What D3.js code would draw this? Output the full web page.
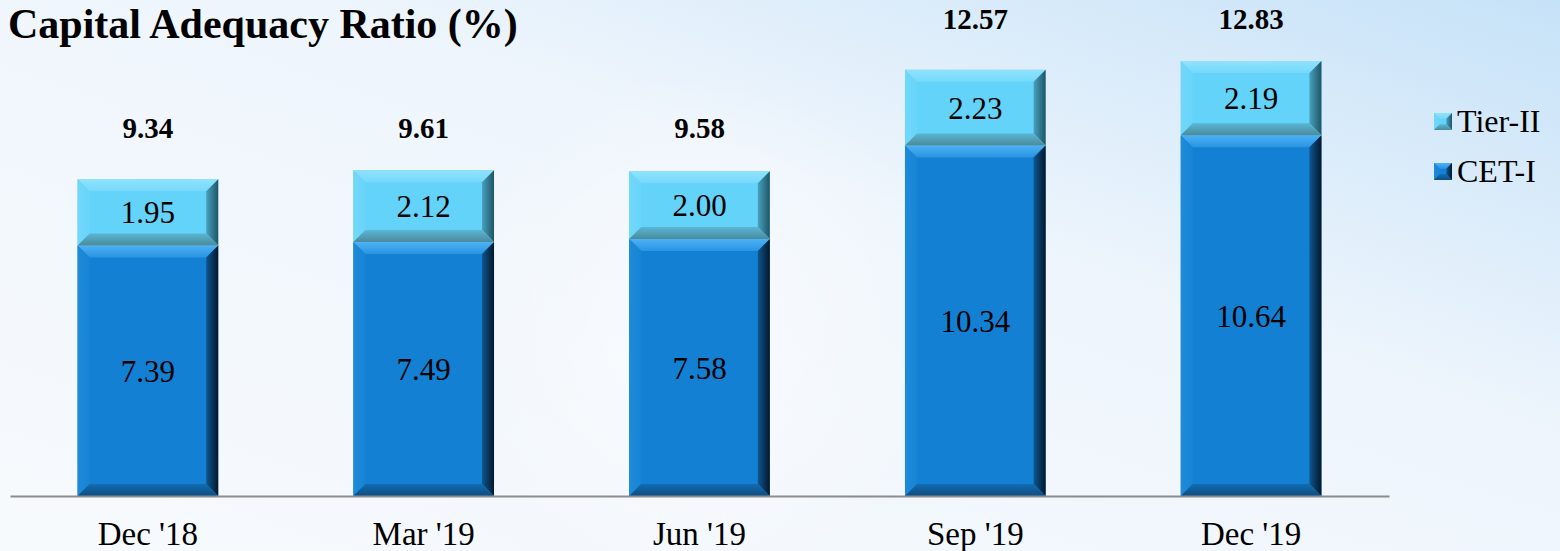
<!DOCTYPE html>
<html>
<head>
<meta charset="utf-8">
<script src="https://cdn.jsdelivr.net/npm/d3@7"></script>
<style>
  html, body { margin: 0; padding: 0; }
  body { width: 1560px; height: 551px; overflow: hidden; font-family: "Liberation Serif", "Times New Roman", serif; }
</style>
</head>
<body>
<div id="chart"></div>
<script>
// chart data
var categories = ["Dec '18", "Mar '19", "Jun '19", "Sep '19", "Dec '19"];
var cetValues = [7.39, 7.49, 7.58, 10.34, 10.64];
var tierValues = [1.95, 2.12, 2.00, 2.23, 2.19];
var totalLabels = ["9.34", "9.61", "9.58", "12.57", "12.83"];
var seriesNames = ["Tier-II", "CET-I"];

var W = 1560, H = 551;
var baseY = 496;

var svg = d3.select("#chart").append("svg")
    .attr("width", W)
    .attr("height", H);

var defs = svg.append("defs");

// background
var bg = defs.append("linearGradient").attr("id", "bg")
    .attr("x1", "0").attr("y1", "1").attr("x2", "1").attr("y2", "0");
bg.append("stop").attr("offset", "0").attr("stop-color", "#f7fafd");
bg.append("stop").attr("offset", "0.6").attr("stop-color", "#eef5fc");
bg.append("stop").attr("offset", "1").attr("stop-color", "#c6e2f8");
svg.append("rect").attr("width", W).attr("height", H).attr("fill", "url(#bg)");

var glow = defs.append("radialGradient").attr("id", "glow");
glow.append("stop").attr("offset", "0").attr("stop-color", "#ffffff").attr("stop-opacity", 0.55);
glow.append("stop").attr("offset", "1").attr("stop-color", "#ffffff").attr("stop-opacity", 0);
svg.append("circle").attr("cx", 700).attr("cy", 330).attr("r", 260).attr("fill", "url(#glow)");

var x = d3.scaleBand()
    .domain(categories)
    .range([10, 1389])
    .paddingInner(0.49)
    .paddingOuter(0.245);

var y = d3.scaleLinear()
    .domain([0, 14.63])
    .range([baseY, 0]);

// colours for the bevelled boxes
var styles = {
  "Tier-II": { key: "t", face: "#64d3f9", top: "#8fe2fd", left: "#70d7fa", right: "#1f5566", bottom: "#4a8a9c" },
  "CET-I":   { key: "c", face: "#1380d3", top: "#4cb2f6", left: "#1e8ad9", right: "#04182b", bottom: "#0f4d80" }
};

// gradients for the bevel edges (edge colour fading into the face)
Object.keys(styles).forEach(function(name) {
  var st = styles[name];
  var dirs = {
    top:    [0, 0, 0, 1],
    left:   [0, 0, 1, 0],
    right:  [1, 0, 0, 0],
    bottom: [0, 1, 0, 0]
  };
  Object.keys(dirs).forEach(function(side) {
    var d = dirs[side];
    var g = defs.append("linearGradient").attr("id", st.key + "-" + side)
        .attr("x1", d[0]).attr("y1", d[1]).attr("x2", d[2]).attr("y2", d[3]);
    g.append("stop").attr("offset", "0").attr("stop-color", st[side]);
    g.append("stop").attr("offset", "1").attr("stop-color", d3.interpolateRgb(st[side], st.face)(0.6));
  });
});

function bevelBox(g, x0, y0, w, h, st, bev) {
  var b = Math.min(bev, h / 3);
  var x1 = x0 + w, y1 = y0 + h;
  g.append("rect").attr("x", x0).attr("y", y0).attr("width", w).attr("height", h).attr("fill", st.face);
  var poly = function(pts, fill) {
    g.append("polygon").attr("points", pts.map(function(p) { return p.join(","); }).join(" ")).attr("fill", fill);
  };
  poly([[x0, y0], [x1, y0], [x1 - b, y0 + b], [x0 + b, y0 + b]], "url(#" + st.key + "-top)");
  poly([[x0, y0], [x0 + b, y0 + b], [x0 + b, y1 - b], [x0, y1]], "url(#" + st.key + "-left)");
  poly([[x1, y0], [x1, y1], [x1 - b, y1 - b], [x1 - b, y0 + b]], "url(#" + st.key + "-right)");
  poly([[x0, y1], [x0 + b, y1 - b], [x1 - b, y1 - b], [x1, y1]], "url(#" + st.key + "-bottom)");
}

var totals = categories.map(function(c, i) { return cetValues[i] + tierValues[i]; });
// total labels sit in a shared row above the tallest bar of similar height
function rowMax(i) {
  var big = totals[i] > 11;
  return d3.max(totals.filter(function(t) { return (t > 11) === big; }));
}

var bars = svg.append("g");

categories.forEach(function(c, i) {
  var bx = x(c), bw = x.bandwidth();
  var yCetTop = y(cetValues[i]);
  var yTop = y(totals[i]);

  bevelBox(bars, bx, yCetTop, bw, baseY - yCetTop, styles["CET-I"], 12);
  bevelBox(bars, bx, yTop, bw, yCetTop - yTop, styles["Tier-II"], 12);

  bars.append("text")
      .attr("x", bx + bw / 2)
      .attr("y", (yCetTop + baseY) / 2 + 11)
      .attr("text-anchor", "middle")
      .style("font-size", "31px")
      .text(cetValues[i].toFixed(2));

  bars.append("text")
      .attr("x", bx + bw / 2)
      .attr("y", (yTop + yCetTop) / 2 + 11)
      .attr("text-anchor", "middle")
      .style("font-size", "31px")
      .text(tierValues[i].toFixed(2));

  bars.append("text")
      .attr("x", bx + bw / 2)
      .attr("y", y(rowMax(i)) - 32)
      .attr("text-anchor", "middle")
      .style("font-size", "29px")
      .style("font-weight", "bold")
      .text(totalLabels[i]);
});

// x axis
var xAxis = svg.append("g")
    .attr("transform", "translate(0," + baseY + ")")
    .call(d3.axisBottom(x).tickSize(0).tickPadding(26));
xAxis.select(".domain").attr("stroke", "#8c8c8c").attr("stroke-width", 2);
xAxis.selectAll("text")
    .style("font-family", "'Liberation Serif', 'Times New Roman', serif")
    .style("font-size", "33px")
    .attr("fill", "#000");

// title
svg.append("text")
    .attr("x", 8)
    .attr("y", 38)
    .style("font-size", "42px")
    .style("font-weight", "bold")
    .text("Capital Adequacy Ratio (%)");

// legend
var legend = svg.append("g").attr("transform", "translate(1434,0)");
seriesNames.forEach(function(name, i) {
  var ly = 122 + i * 50;
  var lg = legend.append("g");
  bevelBox(lg, 0, ly - 9, 18, 17, styles[name], 6);
  legend.append("text")
      .attr("x", 23)
      .attr("y", ly + 10)
      .style("font-size", "32px")
      .text(name);
});
</script>
</body>
</html>
